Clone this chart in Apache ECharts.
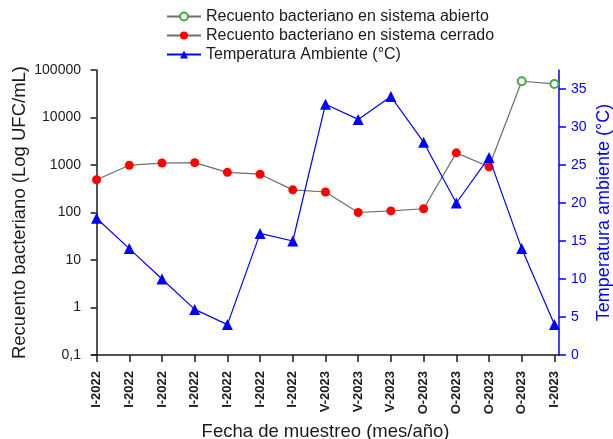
<!DOCTYPE html>
<html>
<head>
<meta charset="utf-8">
<script src="https://cdn.jsdelivr.net/npm/echarts@6/dist/echarts.min.js"></script>
<style>
html,body{margin:0;padding:0;background:#fff;}
#chart{width:613px;height:439px;}
</style>
</head>
<body>
<div id="chart"></div>
<script>
// ---- Data ----
const categories = ['I-2022','I-2022','I-2022','I-2022','I-2022','I-2022','I-2022','V-2023','V-2023','V-2023','O-2023','O-2023','O-2023','O-2023','I-2023'];
// Recuento bacteriano en sistema cerrado (UFC/mL), indices 0..12
const closedCount = [490, 990, 1100, 1120, 700, 640, 300, 270, 100, 108, 120, 1800, 920];
// Recuento bacteriano en sistema abierto (UFC/mL): joins from index 12, points at 13..14
const openStartIndex = 12;
const openCount = [920, 58000, 51000];
// Temperatura ambiente (°C)
const temperature = [18, 14, 10, 6, 4, 16, 15, 33, 31, 34, 28, 20, 26, 14, 4];
const leftTicks = [0.1, 1, 10, 100, 1000, 10000, 100000];
const rightTicks = [0, 5, 10, 15, 20, 25, 30, 35];

const catIdx = categories.map((c, i) => i);
const closedData = closedCount.map((v, i) => [i, v]);
const openData = openCount.map((v, i) => {
  const item = { value: [openStartIndex + i, v] };
  if (i === 0) item.symbol = 'none';
  return item;
});
const tempData = temperature.map((v, i) => [i, v]);

const FONT = 'Liberation Sans, Arial, sans-serif';
const chart = echarts.init(document.getElementById('chart'), null, { renderer: 'canvas' });
chart.setOption({
  animation: false,
  backgroundColor: '#ffffff',
  legend: {
    orient: 'vertical',
    left: 161,
    top: 2,
    itemWidth: 34,
    itemHeight: 10,
    itemGap: 0,
    textStyle: { fontFamily: FONT, fontSize: 16, color: '#1a1a1a', lineHeight: 19 },
    data: ['Recuento bacteriano en sistema abierto', 'Recuento bacteriano en sistema cerrado', 'Temperatura Ambiente (°C)']
  },
  grid: { left: 92, right: 54, top: 70, bottom: 84, containLabel: false, outerBoundsMode: 'none' },
  xAxis: {
    type: 'value',
    min: -0.14,
    max: 14.14,
    name: 'Fecha de muestreo (mes/año)',
    nameLocation: 'middle',
    nameGap: 67,
    nameMoveOverlap: false,
    nameTextStyle: { fontFamily: FONT, fontSize: 18.5, color: '#1a1a1a' },
    axisLine: { show: true, lineStyle: { color: '#1a1a1a', width: 1.5 } },
    axisTick: { show: true, length: 7, inside: false, customValues: catIdx, lineStyle: { color: '#1a1a1a', width: 1.5 } },
    axisLabel: {
      customValues: catIdx,
      rotate: 90,
      margin: 16,
      fontFamily: FONT,
      fontSize: 13,
      fontWeight: 'bold',
      color: '#1a1a1a',
      formatter: v => categories[Math.round(v)]
    },
    splitLine: { show: false }
  },
  yAxis: [
    {
      type: 'log',
      logBase: 10,
      min: 0.1,
      max: 100000,
      position: 'left',
      name: 'Recuento bacteriano (Log UFC/mL)',
      nameLocation: 'middle',
      nameGap: 63,
      nameMoveOverlap: false,
      nameTextStyle: { fontFamily: FONT, fontSize: 18.5, color: '#1a1a1a' },
      axisLine: { show: true, lineStyle: { color: '#1a1a1a', width: 1.5 } },
      axisTick: { show: true, length: 6, customValues: leftTicks, lineStyle: { color: '#1a1a1a', width: 1.5 } },
      minorTick: { show: false },
      axisLabel: {
        customValues: leftTicks,
        margin: 11,
        fontFamily: FONT,
        fontSize: 14,
        color: '#1a1a1a',
        formatter: v => (v < 1 ? String(Math.round(v * 10) / 10).replace('.', ',') : String(Math.round(v)))
      },
      splitLine: { show: false }
    },
    {
      type: 'value',
      min: 0,
      max: 37.5,
      position: 'right',
      name: 'Temperatura ambiente (°C)',
      nameLocation: 'middle',
      nameGap: 36,
      nameMoveOverlap: false,
      nameTextStyle: { fontFamily: FONT, fontSize: 18, color: '#0000ff' },
      axisLine: { show: true, lineStyle: { color: '#0000ff', width: 1.5 } },
      axisTick: { show: true, length: 7, customValues: rightTicks, lineStyle: { color: '#0000ff', width: 1.5 } },
      axisLabel: {
        customValues: rightTicks,
        margin: 12,
        fontFamily: FONT,
        fontSize: 14,
        color: '#0000ff'
      },
      splitLine: { show: false }
    }
  ],
  series: [
    {
      name: 'Recuento bacteriano en sistema abierto',
      type: 'line',
      yAxisIndex: 0,
      data: openData,
      symbol: 'emptyCircle',
      symbolSize: 8,
      lineStyle: { color: '#6e6e6e', width: 1.2 },
      itemStyle: { color: '#44a844', borderColor: '#44a844', borderWidth: 1.2 },
      z: 2
    },
    {
      name: 'Recuento bacteriano en sistema cerrado',
      type: 'line',
      yAxisIndex: 0,
      data: closedData,
      symbol: 'circle',
      symbolSize: 9,
      lineStyle: { color: '#6e6e6e', width: 1.2 },
      itemStyle: { color: '#ff0000', borderWidth: 0 },
      z: 3
    },
    {
      name: 'Temperatura Ambiente (°C)',
      type: 'line',
      yAxisIndex: 1,
      data: tempData,
      symbol: 'triangle',
      symbolSize: 11,
      lineStyle: { color: '#0000ff', width: 1.2 },
      itemStyle: { color: '#0000ff', borderWidth: 0 },
      z: 4
    }
  ]
});
</script>
</body>
</html>
